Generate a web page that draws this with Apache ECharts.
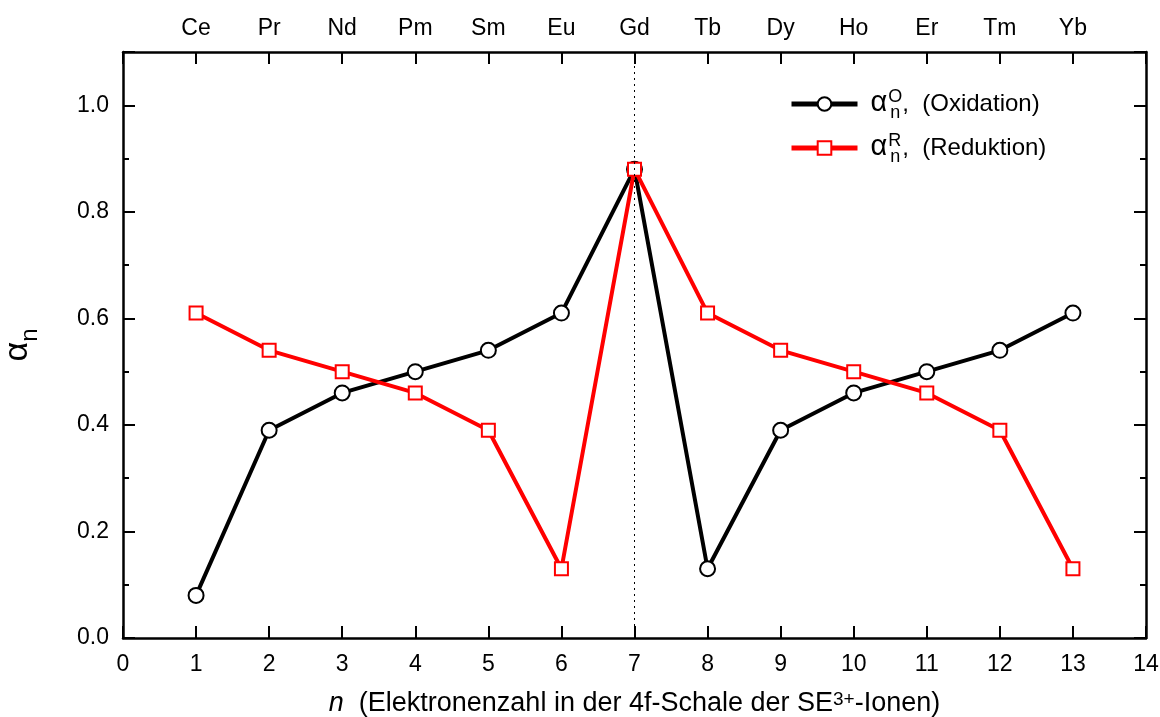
<!DOCTYPE html>
<html>
<head>
<meta charset="utf-8">
<script src="https://cdn.jsdelivr.net/npm/echarts@6/dist/echarts.min.js"></script>
<style>html,body{margin:0;padding:0;background:#fff}#c{width:1160px;height:717px}</style>
</head>
<body>
<div id="c"></div>
<script>
const nValues = [1,2,3,4,5,6,7,8,9,10,11,12,13];
const elements = ['Ce','Pr','Nd','Pm','Sm','Eu','Gd','Tb','Dy','Ho','Er','Tm','Yb'];
const oxidation = [0.08,0.39,0.46,0.50,0.54,0.61,0.88,0.13,0.39,0.46,0.50,0.54,0.61];
const reduktion = [0.61,0.54,0.50,0.46,0.39,0.13,0.88,0.61,0.54,0.50,0.46,0.39,0.13];
const yTickLabels = ['0.0','0.2','0.4','0.6','0.8','1.0'];

const FONT = 'Liberation Sans, Arial, sans-serif';
const FS = 23;
const chart = echarts.init(document.getElementById('c'), null, {renderer:'canvas'});

const axisLine = {show:true, onZero:false, lineStyle:{color:'#000', width:2.5}};
const baseX = {type:'value', min:0, max:14, interval:1, splitLine:{show:false}, axisLine};
const baseY = {type:'value', min:0, max:1.1, splitLine:{show:false}, axisLine};
const majorTick = {show:true, inside:true, length:12, lineStyle:{color:'#000', width:2}};
const minorTickAx = {show:true, inside:true, length:6, lineStyle:{color:'#000', width:2}};

const legendRich = {
  al:{fontFamily:FONT, fontSize:29, color:'#000', padding:[0,1,2,0]},
  a:{fontFamily:FONT, fontSize:24, color:'#000'},
  sup:{fontFamily:FONT, fontSize:18, color:'#000', width:0, padding:[0,0,14,0]},
  sub:{fontFamily:FONT, fontSize:18, color:'#000', padding:[18,2,0,2]}
};
const titleRich = {
  a:{fontFamily:FONT, fontSize:27, color:'#000'},
  i:{fontFamily:FONT, fontSize:27, color:'#000', fontStyle:'italic'},
  sup:{fontFamily:FONT, fontSize:19, color:'#000', padding:[0,0,8,0]}
};

chart.setOption({
  animation:false,
  backgroundColor:'#fff',
  grid:{left:123, right:14, top:52, bottom:79, containLabel:false, outerBoundsMode:'none'},
  legend:{
    left:784, top:83, orient:'vertical', itemGap:10,
    itemWidth:66, itemHeight:17,
    data:['ox','red'],
    lineStyle:{width:5},
    formatter: function(name){
      return name === 'ox'
        ? '{al|α}{sup|O}{sub|n}{a|,  (Oxidation)}'
        : '{al|α}{sup|R}{sub|n}{a|,  (Reduktion)}';
    },
    textStyle:{rich:legendRich, padding:[0,0,0,8]}
  },
  xAxis:[
    Object.assign({}, baseX, {
      position:'bottom',
      axisTick:majorTick,
      axisLabel:{fontFamily:FONT, fontSize:FS, color:'#000', margin:15},
      name:'{i|n}{a|  (Elektronenzahl in der 4f-Schale der SE}{sup|3+}{a|-Ionen)}',
      nameLocation:'middle', nameGap:52,
      nameTextStyle:{rich:titleRich}
    }),
    Object.assign({}, baseX, {
      position:'top',
      axisTick:majorTick,
      axisLabel:{fontFamily:FONT, fontSize:FS, color:'#000', margin:12,
        formatter: v => (v>=1 && v<=13) ? elements[v-1] : ''}
    })
  ],
  yAxis:[
    Object.assign({}, baseY, {
      position:'left', interval:0.2,
      axisTick:majorTick,
      axisLabel:{fontFamily:FONT, fontSize:FS, color:'#000', margin:14,
        formatter: v => { const i = Math.round(v/0.2); return (Math.abs(v - i*0.2) < 1e-6 && i < yTickLabels.length) ? yTickLabels[i] : ''; }},
      name:'{a|α}{sub|n}',
      nameLocation:'middle', nameGap:81, nameRotate:90,
      nameTextStyle:{rich:{a:{fontFamily:FONT, fontSize:34, color:'#000'}, sub:{fontFamily:FONT, fontSize:24, color:'#000', padding:[24,0,0,0]}}}
    }),
    Object.assign({}, baseY, {
      position:'left', interval:0.1, axisLine:{show:false, onZero:false},
      axisTick:minorTickAx,
      axisLabel:{show:false}
    }),
    Object.assign({}, baseY, {
      position:'right', interval:0.2,
      axisTick:majorTick,
      axisLabel:{show:false}
    }),
    Object.assign({}, baseY, {
      position:'right', interval:0.1, axisLine:{show:false, onZero:false},
      axisTick:minorTickAx,
      axisLabel:{show:false}
    })
  ],
  series:[
    {
      name:'ox', type:'line', xAxisIndex:0, yAxisIndex:0,
      data: nValues.map((n,i)=>[n, oxidation[i]]),
      symbol:'circle', symbolSize:15,
      lineStyle:{color:'#000', width:4},
      itemStyle:{color:'#fff', borderColor:'#000', borderWidth:2},
      color:'#000',
      z:3,
      markLine:{
        silent:true, symbol:'none', label:{show:false},
        lineStyle:{color:'#000', type:[2,4], width:1},
        data:[{xAxis:7}]
      }
    },
    {
      name:'red', type:'line', xAxisIndex:0, yAxisIndex:0,
      data: nValues.map((n,i)=>[n, reduktion[i]]),
      symbol:'rect', symbolSize:13,
      lineStyle:{color:'#ff0000', width:4},
      itemStyle:{color:'#fff', borderColor:'#ff0000', borderWidth:2},
      color:'#ff0000',
      z:4
    }
  ]
});
</script>
</body>
</html>
